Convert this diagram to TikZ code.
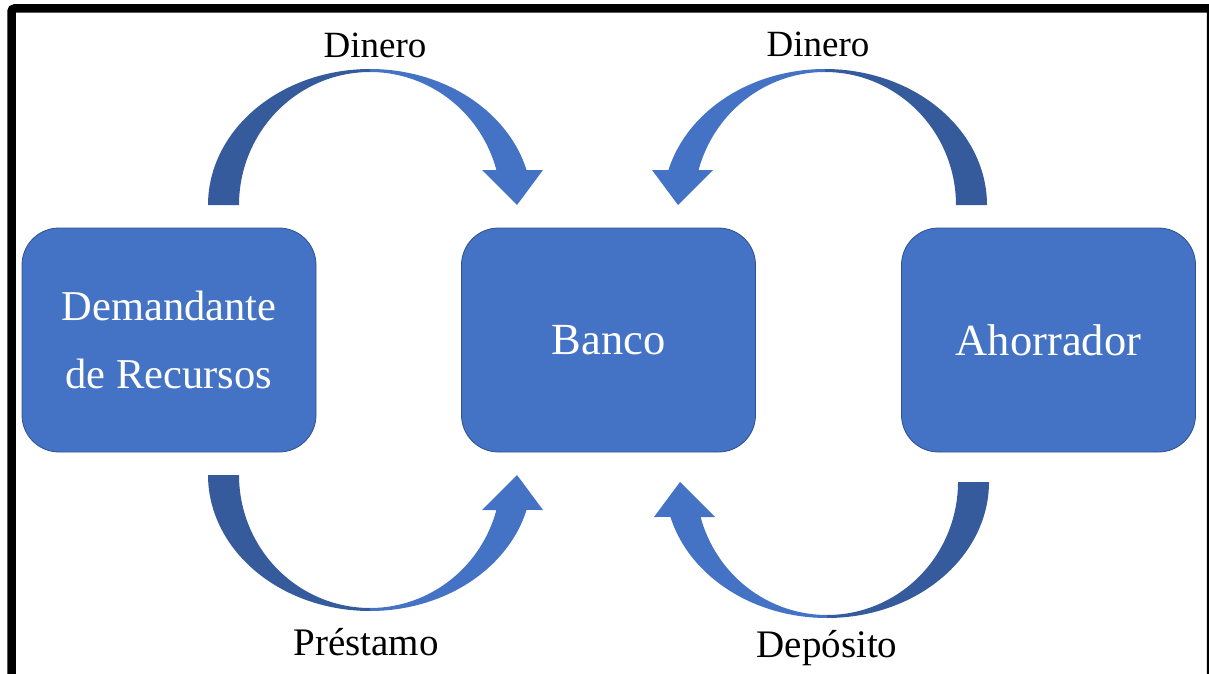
\documentclass[tikz,border=0pt]{standalone}
\usepackage{fontspec}
\setmainfont{Liberation Serif}
\definecolor{boxblue}{HTML}{4472C4}
\definecolor{boxedge}{HTML}{2F528F}
\definecolor{arrowdark}{HTML}{365B9D}
\definecolor{arrowlight}{HTML}{4472C4}
\tikzset{
  box/.style={fill=boxblue, draw=boxedge, line width=0.8pt, rounded corners=37pt,
    minimum width=294pt, minimum height=224pt, text=white, align=center, inner sep=0pt},
  flowlabel/.style={anchor=base, text=black, inner sep=0pt},
  % curved block arrow: tail on the left, head on the right, centre at the origin
  curvedarrow/.pic={
    \fill[arrowdark]
      plot[domain=180:90, samples=50] ({162*cos(\x)}, {-136*sin(\x)})
      -- plot[domain=90:180, samples=50] ({131*cos(\x)}, {-133*sin(\x)}) -- cycle;
    \fill[arrowlight]
      plot[domain=90:14.9, samples=50] ({162*cos(\x)}, {-136*sin(\x)})
      -- (173,-35) -- (147,0) -- (112,-35) -- (126.6,-35)
      -- plot[domain=14.9:90, samples=50] ({131*cos(\x)}, {-133*sin(\x)}) -- cycle;
  }
}
\begin{document}
\begin{tikzpicture}[x=1pt, y=-1pt]
\useasboundingbox (0,0) rectangle (1209,674);
% outer frame
\begin{scope}
  \clip (0,0) rectangle (1209,674);
  \draw[line width=8.5pt, rounded corners=3pt] (11.5,8.5) rectangle (1211,700);
\end{scope}

% the three parties
\node[box, font=\fontsize{42.5}{68}\selectfont] (dem) at (169,340) {Demandante\\de Recursos};
\node[box, font=\fontsize{44.5}{50}\selectfont] (banco) at (608.5,340) {Banco};
\node[box, font=\fontsize{44.5}{50}\selectfont] (aho) at (1048.5,340) {Ahorrador};

% arrow anchors
\coordinate (tl) at (370,205);
\coordinate (tr) at (825,205);
\coordinate (bl) at (370,475);
\coordinate (br) at (827,482);

\pic at (tl) {curvedarrow};
\pic[xscale=-1] at (tr) {curvedarrow};
\pic[yscale=-1] at (bl) {curvedarrow};
\pic[xscale=-1, yscale=-1] at (br) {curvedarrow};

% flow labels
\node[flowlabel, font=\fontsize{37}{40}\selectfont] (l1) at (375,58) {Dinero};
\node[flowlabel, font=\fontsize{37}{40}\selectfont] (l2) at (818,57) {Dinero};
\node[flowlabel, font=\fontsize{39}{42}\selectfont] (l3) at (366,655) {Préstamo};
\node[flowlabel, font=\fontsize{39}{42}\selectfont] (l4) at (827,657) {Depósito};
\end{tikzpicture}
\end{document}
